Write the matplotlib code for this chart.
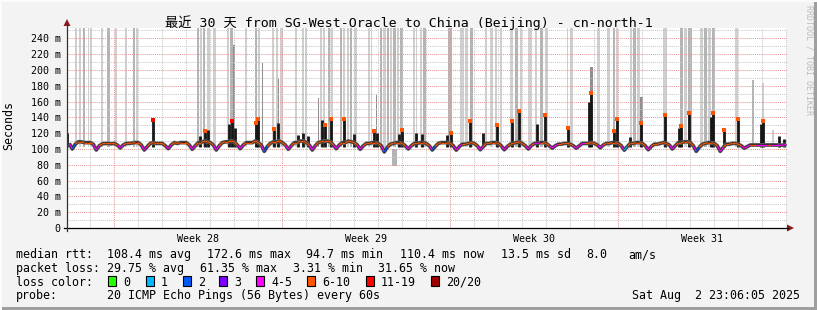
import numpy as np
import matplotlib.pyplot as plt
from matplotlib.collections import LineCollection
from matplotlib.lines import Line2D
from matplotlib.patches import Polygon, Rectangle

plt.rcParams['font.family'] = ['DejaVu Sans Mono', 'Noto Sans CJK SC']

# ---------------- data ----------------
TITLE = '最近 30 天 from SG-West-Oracle to China (Beijing) - cn-north-1'
WEEK_LABELS = ['Week 28', 'Week 29', 'Week 30', 'Week 31']
WEEK_STARTS = [1.97, 8.97, 15.97, 22.97]          # days since start of graph
Y_TICKS = [0, 20, 40, 60, 80, 100, 120, 140, 160, 180, 200, 220, 240]
Y_LABELS = ['0', '20 m', '40 m', '60 m', '80 m', '100 m', '120 m', '140 m',
            '160 m', '180 m', '200 m', '220 m', '240 m']

LOSS_NAMES = ['0', '1', '2', '3', '4-5', '6-10', '11-19', '20/20']
LOSS_COLORS = ['#26ff00', '#00b8ff', '#0059ff', '#7e00ff',
               '#ff00ff', '#ff5500', '#ff0000', '#a10000']

# median rtt (ms), 8 samples per day (every 3 h)
median_ms = [
    [107, 100.0, 106, 109, 109, 108, 108, 108],
    [106, 98.7, 104, 106.5, 107, 107, 106.5, 107],
    [105, 101.3, 105, 107, 107, 107.5, 108, 108],
    [105, 98.7, 103, 107, 108, 107, 107, 107],
    [104, 100.4, 105, 108, 107, 108, 108, 108],
    [105, 99.6, 104, 108, 108, 110, 109, 108],
    [105, 98.7, 104, 108, 109, 109, 110, 109],
    [105, 100.4, 105, 108, 108, 108, 110, 108],
    [105, 97.0, 103, 107, 109, 109, 110, 108],
    [105, 99.6, 104, 108, 108, 110, 110, 108],
    [105, 98.7, 104, 108, 109, 110, 110, 109],
    [105, 100.4, 105, 108, 108, 110, 109, 108],
    [105, 99.6, 104, 107, 107, 108, 108, 107],
    [104, 96.3, 102, 106, 107, 108, 108, 107],
    [104, 100.0, 104, 107, 107, 108, 108, 107],
    [104, 98.7, 103, 107, 108, 108, 108, 107],
    [104, 98.5, 103, 106, 106, 107, 108, 107],
    [104, 99.0, 103, 107, 107, 108, 108, 107],
    [104, 99.0, 103, 106, 107, 108, 109, 107],
    [104, 100.0, 104, 107, 107, 108, 108, 107],
    [104, 101.0, 104, 106, 106, 107, 107, 106],
    [104, 101.0, 104, 107, 107, 107, 108, 107],
    [105, 101.5, 105, 107, 107, 108, 108, 107],
    [104, 98.5, 103, 107, 107, 108, 108, 107],
    [104, 99.0, 103, 106, 106, 107, 108, 107],
    [105, 100.0, 104, 108, 108, 109, 109, 108],
    [104, 97.0, 102, 106, 107, 108, 108, 107],
    [104, 97.0, 102, 106, 106, 107, 107, 106],
    [104, 101.0, 103, 105, 105, 105, 105, 105],
    [105, 105.0, 105, 105, 105, 104.5, 105, 106],
]
# loss class of each median sample (index into LOSS_COLORS)
loss_class = [
    '42555555', '44555555', '44555555', '44555555', '44555555',
    '44555555', '44555555', '44555555', '42555555', '44555555',
    '44555555', '44555555', '44555555', '42555555', '44555555',
    '42555555', '44455555', '44555555', '44555555', '44544555',
    '44455555', '44445555', '44555555', '41555555', '44555555',
    '44555555', '42555555', '44555555', '44455444', '45444445',
]

# latency spikes of the median (day, top ms, tip loss class or -1)
spike_day = [0.00, 3.58, 5.54, 5.75, 5.88, 6.75, 6.88, 7.00, 7.88, 7.96,
             8.63, 8.79, 9.63, 9.83, 10.04, 10.63, 10.75, 11.00, 11.54, 11.96,
             12.79, 12.92, 13.83, 13.96, 14.54, 14.79, 15.83, 16.00, 16.79, 17.33,
             17.92, 18.54, 18.83, 19.58, 19.92, 20.88, 21.75, 21.83, 22.79, 22.92,
             23.46, 23.92, 24.92, 25.50, 25.58, 25.92, 26.83, 26.92, 27.38, 27.96,
             28.92, 29.00, 29.67, 29.88]
spike_top = [120, 137.6, 116, 124, 124, 131, 137, 126, 134, 139,
             127, 133, 118, 120, 117, 137, 132, 140, 139, 119,
             124, 120, 119, 126, 120, 119, 118, 122, 137, 120,
             132, 137, 149, 131, 145, 128, 160, 172.6, 124, 139,
             115, 134.5, 145, 126, 130, 147, 140, 147, 126, 139,
             132, 137, 117, 113]
spike_tip = [-1, 6, -1, 5, -1, -1, 6, -1, 5, 5,
             5, -1, -1, -1, -1, -1, 5, 5, 5, -1,
             5, -1, -1, 5, -1, -1, -1, 5, 5, -1,
             5, 5, 5, -1, 5, 5, -1, 5, 5, 5,
             -1, 5, 5, -1, 5, 5, -1, 5, 5, 5,
             -1, 5, -1, -1]

# smoke (ping spread): start day, end day, bottom ms, top ms, shade
smoke_start = [0.33, 0.50, 0.67, 0.88, 0.96, 1.42, 1.67, 2.00, 2.42, 2.75,
               2.88, 5.42, 5.54, 5.67, 5.83, 6.08, 6.67, 6.79, 6.92, 7.42,
               7.83, 7.96, 8.13, 8.54, 8.71, 8.79, 8.88, 9.50, 9.79, 9.92,
               10.46, 10.54, 10.67, 10.88, 11.00, 11.38, 11.50, 11.67, 11.79, 11.96,
               12.54, 12.67, 12.88, 13.04, 13.17, 13.33, 13.46, 13.58, 13.75, 13.88,
               14.42, 14.54, 14.71, 14.83, 15.88, 16.38, 16.58, 16.79, 17.42, 17.63,
               17.83, 18.04, 18.46, 18.67, 18.88, 19.21, 19.50, 19.71, 19.92, 20.83,
               20.96, 21.79, 22.08, 22.50, 22.75, 22.88, 23.46, 23.58, 23.75, 23.88,
               24.83, 25.54, 25.71, 25.88, 26.38, 26.54, 26.71, 26.88, 27.83, 28.54,
               28.96, 29.38, 13.54]
smoke_end = [0.42, 0.58, 0.75, 0.92, 1.04, 1.50, 1.79, 2.08, 2.50, 2.83,
             2.96, 5.50, 5.63, 5.75, 5.96, 6.21, 6.75, 6.92, 7.00, 7.50,
             7.92, 8.04, 8.17, 8.63, 8.79, 8.83, 9.00, 9.58, 9.88, 10.00,
             10.50, 10.63, 10.75, 10.96, 11.08, 11.46, 11.58, 11.75, 11.88, 12.08,
             12.63, 12.71, 12.92, 13.13, 13.29, 13.42, 13.54, 13.71, 13.83, 14.00,
             14.50, 14.58, 14.79, 14.96, 16.04, 16.54, 16.71, 16.92, 17.50, 17.75,
             17.92, 18.13, 18.58, 18.79, 18.96, 19.38, 19.58, 19.83, 20.04, 20.88,
             21.08, 21.92, 22.21, 22.63, 22.83, 22.96, 23.54, 23.71, 23.88, 24.00,
             25.00, 25.67, 25.83, 26.04, 26.50, 26.67, 26.83, 27.00, 27.96, 28.63,
             29.04, 29.46, 13.75]
smoke_bottom = [102] * 92 + [78]
smoke_top = [260, 260, 260, 260, 260, 260, 260, 260, 260, 260,
             260, 260, 260, 260, 260, 260, 260, 260, 232, 260,
             260, 260, 209, 260, 260, 190, 260, 260, 260, 260,
             164, 260, 260, 260, 260, 260, 260, 260, 260, 260,
             260, 260, 168, 260, 260, 260, 260, 260, 260, 260,
             260, 260, 260, 260, 260, 260, 260, 260, 260, 260,
             260, 260, 260, 260, 260, 260, 260, 260, 260, 260,
             260, 204, 260, 260, 260, 260, 260, 260, 260, 166,
             260, 260, 260, 260, 260, 260, 260, 260, 260, 187,
             183, 124, 100]
smoke_shade = ('llmlllmllm' 'lmlmlllmdl' 'mldlldllll' 'dllmlmllml' 'lldmlmlmlm'
               'lllmmllmll' 'lllmlllmll' 'ldllmllmld' 'lmlmlmlmlm' 'llm')

# legend values
RTT_LINE = [('median rtt:', 16), ('108.4 ms avg', 107), ('172.6 ms max', 207),
            ('94.7 ms min', 306), ('110.4 ms now', 400), ('13.5 ms sd', 501),
            ('8.0', 586), ('am/s', 628)]
LOSS_LINE = [('packet loss:', 16), ('29.75 % avg', 107), ('61.35 % max', 200),
             ('3.31 % min', 293), ('31.65 % now', 378)]
PROBE = '20 ICMP Echo Pings (56 Bytes) every 60s'
STAMP = 'Sat Aug  2 23:06:05 2025'

# ---------------- figure ----------------
W, H = 817, 310
fig = plt.figure(figsize=(W / 100, H / 100), dpi=100, facecolor='#f3f3f3')
ax = fig.add_axes([67 / W, 1 - 228 / H, 720 / W, 200 / H])
ax.set_facecolor('white')
ax.set_xlim(0, 30)
ax.set_ylim(0, 253)
for s in ax.spines.values():
    s.set_visible(False)

shades = {'l': '#cfcfcf', 'm': '#b4b4b4', 'd': '#8e8e8e'}
for x0, x1, b, t, sh in zip(smoke_start, smoke_end, smoke_bottom, smoke_top, smoke_shade):
    ax.bar(x0, t - b, width=x1 - x0, bottom=b, align='edge',
           color=shades[sh], linewidth=0, zorder=1)

# grid
dot = (0, (1, 1))
for d in np.arange(0.97, 30, 1.0):
    if min(abs(d - w) for w in WEEK_STARTS) > 0.01:
        ax.axvline(d, color='#c8c8c8', ls=dot, lw=0.75, zorder=2)
for w in WEEK_STARTS:
    ax.axvline(w, color='#e89a9a', ls=dot, lw=0.75, zorder=2)
for y in range(10, 253, 20):
    ax.axhline(y, color='#c8c8c8', ls=dot, lw=0.75, zorder=2)
for y in range(20, 241, 20):
    ax.axhline(y, color='#e89a9a', ls=dot, lw=0.75, zorder=2)

# spikes
ax.vlines(spike_day, 103, spike_top, color='#161616', lw=2.0, zorder=3)

# median line coloured by loss, over a dark smoke band
med = np.array(median_ms, dtype=float).ravel()
cls = [int(c) for row in loss_class for c in row]
t_med = np.arange(med.size) / 8 + 0.095
ax.plot(t_med, med, color='#6a6a6a', lw=2.8, zorder=4, solid_capstyle='butt')
ax.plot(t_med, med, color='#2a2a2a', lw=1.8, zorder=4, solid_capstyle='butt')
pts = np.column_stack([t_med, med])
segs = np.stack([pts[:-1], pts[1:]], axis=1)
ax.add_collection(LineCollection(segs, colors=[LOSS_COLORS[c] for c in cls[:-1]],
                                 linewidths=0.9, zorder=5))
for d, t, c in zip(spike_day, spike_top, spike_tip):
    if c >= 0:
        ax.plot(d, t - 1.5, marker='s', ms=2.7, mew=0, color=LOSS_COLORS[c], zorder=6)

ax.set_yticks(Y_TICKS, Y_LABELS)
ax.set_xticks([w + 3.5 for w in WEEK_STARTS], WEEK_LABELS)
ax.tick_params(length=0, labelsize=7.2, pad=4.5)
ax.tick_params(axis='x', pad=4)

# axes lines and arrows
def fx(x):
    return x / W

def fy(y):
    return 1 - y / H

fig.add_artist(Line2D([fx(64), fx(788)], [fy(228), fy(228)], color='black', lw=0.9))
fig.add_artist(Line2D([fx(67), fx(67)], [fy(231), fy(25)], color='#333333', lw=0.9))
fig.add_artist(Polygon([(fx(787), fy(224.5)), (fx(794), fy(228)), (fx(787), fy(231.5))],
                       closed=True, color='#8b1a1a', lw=0))
fig.add_artist(Polygon([(fx(63.5), fy(26)), (fx(67), fy(19)), (fx(70.5), fy(26))],
                       closed=True, color='#8b1a1a', lw=0))

# texts
fig.text(fx(408.5), fy(26.7), TITLE, ha='center', va='baseline', fontsize=9.5)
fig.text(fx(15), fy(126), 'Seconds', rotation=90, ha='right', va='center', fontsize=8.4)
fig.text(fx(808.5), fy(5), 'RRDTOOL / TOBI OETIKER', rotation=270, ha='center',
         va='top', fontsize=6, color='#bcbcbc')

for txt, x in RTT_LINE:
    fig.text(fx(x), fy(258.3), txt, va='baseline', fontsize=8.4)
for txt, x in LOSS_LINE:
    fig.text(fx(x), fy(271.7), txt, va='baseline', fontsize=8.4)
fig.text(fx(16), fy(285.5), 'loss color:', va='baseline', fontsize=8.4)
box_x = [108.3, 145.7, 182.7, 219.3, 256.3, 307, 365.7, 430.7]
for name, col, bx in zip(LOSS_NAMES, LOSS_COLORS, box_x):
    fig.add_artist(Rectangle((fx(bx), fy(286)), 8 / W, 10 / H, facecolor=col,
                             edgecolor='black', lw=0.8))
    fig.text(fx(bx + 15), fy(285.5), name, va='baseline', fontsize=8.4)
fig.text(fx(16), fy(299.3), 'probe:', va='baseline', fontsize=8.4)
fig.text(fx(107), fy(299.3), PROBE, va='baseline', fontsize=8.4)
fig.text(fx(800), fy(299.3), STAMP, ha='right', va='baseline', fontsize=8.4)

# frame
fig.add_artist(Rectangle((fx(0), fy(310)), 1, 3 / H, color='#9f9f9f', lw=0))
fig.add_artist(Rectangle((fx(814), 0), 3 / W, 1, color='#9f9f9f', lw=0))
fig.add_artist(Rectangle((0, fy(2)), 1, 2 / H, color='#fcfcfc', lw=0))
fig.add_artist(Rectangle((0, 0), 2 / W, 1, color='#fcfcfc', lw=0))

fig.savefig('out.png', dpi=100, facecolor=fig.get_facecolor())
